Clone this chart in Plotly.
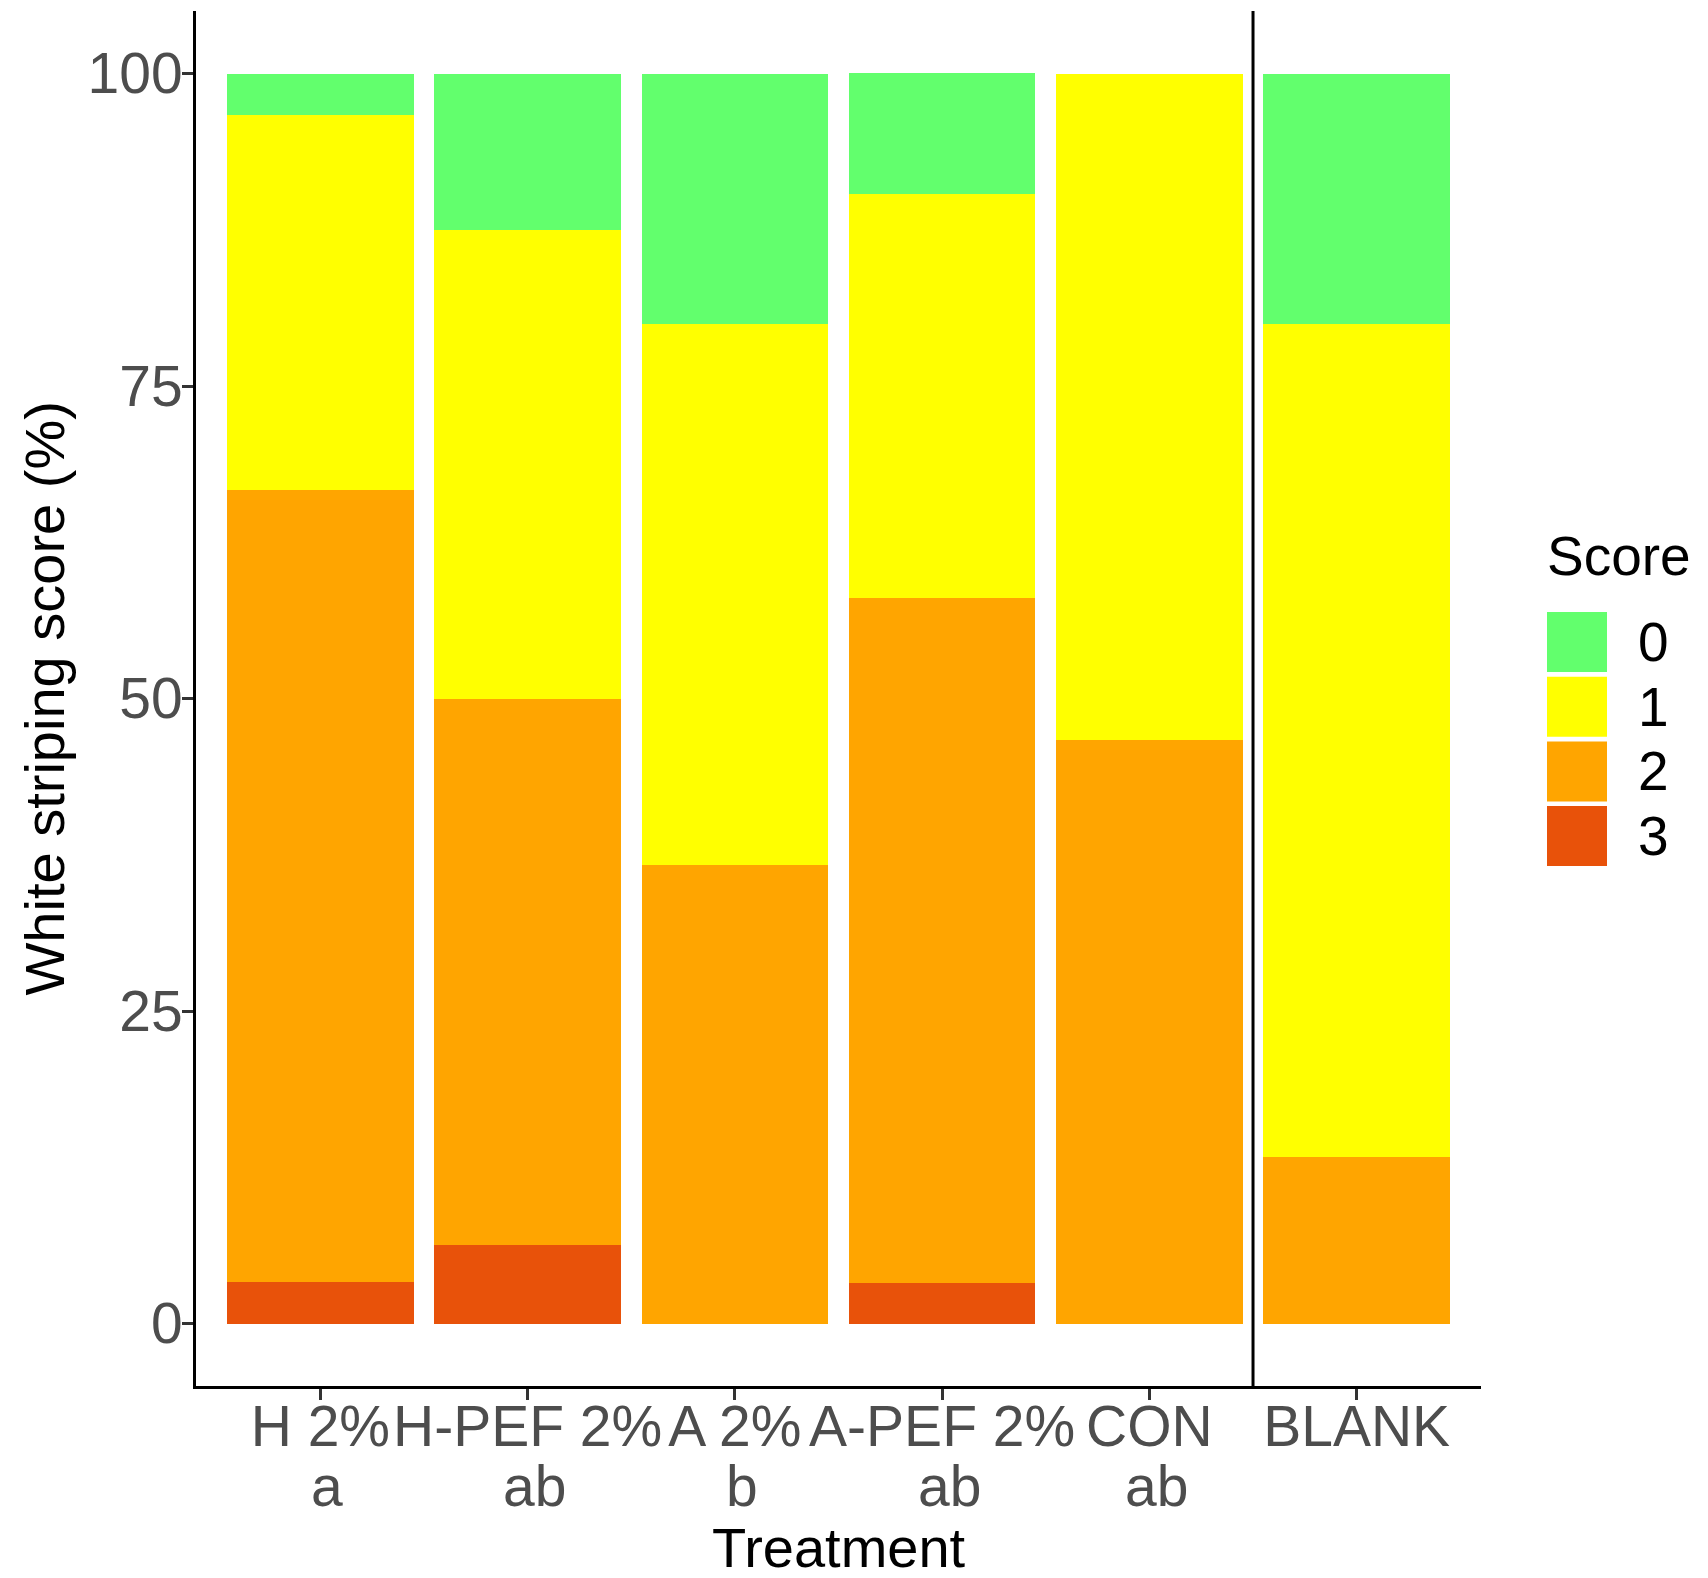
import plotly.graph_objects as go

# Treatment groups, significance letters and the share of fillets at each white-striping score
treatments = ["H 2%", "H-PEF 2%", "A 2%", "A-PEF 2%", "CON", "BLANK"]
letters = ["a", "ab", "b", "ab", "ab", ""]

scores = ["0", "1", "2", "3"]
score_0 = [3.33, 12.50, 20.00, 9.68, 0.00, 20.00]
score_1 = [30.00, 37.50, 43.33, 32.26, 53.33, 66.67]
score_2 = [63.33, 43.75, 36.67, 54.84, 46.67, 13.33]
score_3 = [3.33, 6.25, 0.00, 3.23, 0.00, 0.00]
score_colors = ["#62FF6D", "#FFFF00", "#FFA500", "#E8520A"]

y_ticks = [0, 25, 50, 75, 100]

FONT = "Liberation Sans, Arial, sans-serif"
TICK_FS = 57
TITLE_FS = 56
LEG_FS = 55
W, H = 1708, 1578
L, R, T, B = 196, 1481, 11, 1386  # plot area in pixels


def px_x(p):
    return (p - L) / (R - L)


def px_y(p):
    return (B - p) / (B - T)


fig = go.Figure()

# stacked from the bottom: score 3 first, score 0 on top
series = {"0": score_0, "1": score_1, "2": score_2, "3": score_3}
for s, col in reversed(list(zip(scores, score_colors))):
    fig.add_trace(go.Bar(
        x=treatments, y=series[s], name=s,
        marker=dict(color=col, line=dict(width=0)),
        showlegend=False,
    ))

annotations = []

# second line of the category labels (significance letters, set after a space)
for t, lt in zip(treatments, letters):
    if lt:
        annotations.append(dict(
            x=t, xref="x", y=px_y(1486), yref="paper", xshift=7,
            text=lt, showarrow=False, xanchor="center", yanchor="middle",
            font=dict(family=FONT, size=TICK_FS, color="#4D4D4D"),
        ))

# axis titles
annotations.append(dict(
    x=0.5, xref="paper", y=px_y(1547), yref="paper",
    text="Treatment", showarrow=False, xanchor="center", yanchor="middle",
    font=dict(family=FONT, size=TITLE_FS, color="black"),
))
annotations.append(dict(
    x=px_x(44), xref="paper", y=0.5, yref="paper",
    text="White striping score (%)", showarrow=False, textangle=-90,
    xanchor="center", yanchor="middle",
    font=dict(family=FONT, size=TITLE_FS, color="black"),
))

# legend
shapes = []
annotations.append(dict(
    x=px_x(1545), xref="paper", y=px_y(556), yref="paper",
    text="Score", showarrow=False, xanchor="left", yanchor="middle",
    font=dict(family=FONT, size=LEG_FS, color="black"),
))
key_top = 612
key_h = 60
key_step = 64.7
for i, (s, col) in enumerate(zip(scores, score_colors)):
    y0 = key_top + i * key_step
    shapes.append(dict(
        type="rect", xref="paper", yref="paper",
        x0=px_x(1547), x1=px_x(1607), y0=px_y(y0 + key_h), y1=px_y(y0),
        fillcolor=col, line=dict(width=0),
    ))
    annotations.append(dict(
        x=px_x(1636), xref="paper", y=px_y(y0 + key_h / 2), yref="paper",
        text=s, showarrow=False, xanchor="left", yanchor="middle",
        font=dict(family=FONT, size=LEG_FS, color="black"),
    ))

# separator between the treated groups and the blank
shapes.append(dict(
    type="line", xref="x", yref="paper",
    x0=4.5, x1=4.5, y0=0, y1=1,
    line=dict(color="black", width=3),
))

fig.update_layout(
    width=W, height=H,
    margin=dict(l=L, r=W - R, t=T, b=H - B, autoexpand=False),
    paper_bgcolor="white", plot_bgcolor="white",
    barmode="stack", bargap=0.1,
    font=dict(family=FONT, size=TICK_FS),
    annotations=annotations, shapes=shapes,
    showlegend=False,
)
fig.update_xaxes(
    type="category", range=[-0.6, 5.6],
    showline=True, linecolor="black", linewidth=3,
    ticks="outside", ticklen=11, tickwidth=2.5, tickcolor="#333333",
    tickfont=dict(family=FONT, size=TICK_FS, color="#4D4D4D"),
    ticklabelstandoff=-22,
    showgrid=False, zeroline=False,
)
fig.update_yaxes(
    range=[-5, 105], tickvals=y_ticks,
    showline=True, linecolor="black", linewidth=3,
    ticks="outside", ticklen=11, tickwidth=2.5, tickcolor="#333333",
    tickfont=dict(family=FONT, size=TICK_FS, color="#4D4D4D"),
    ticklabelstandoff=-12,
    showgrid=False, zeroline=False,
)

fig.write_html("out.html")
